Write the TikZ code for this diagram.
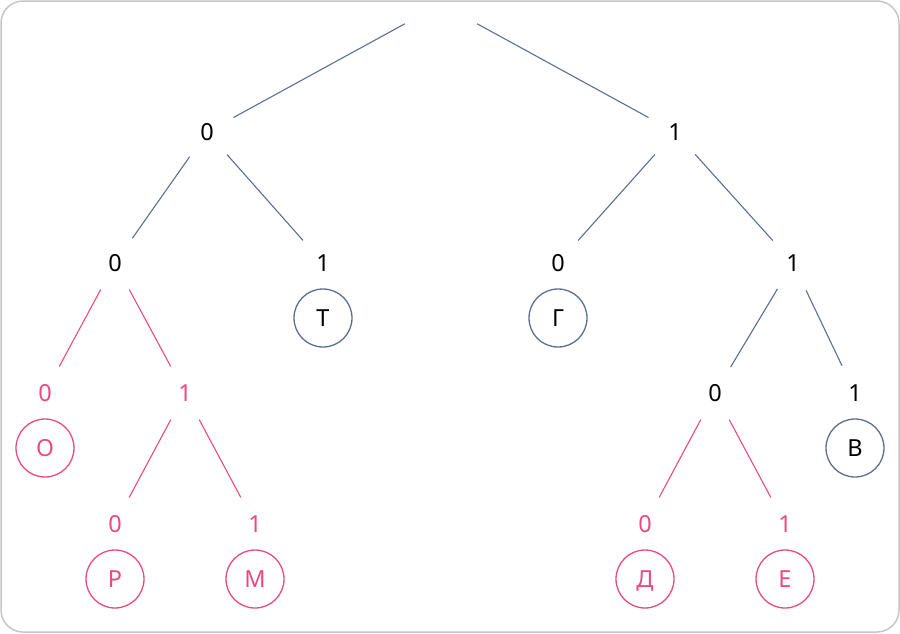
\documentclass[tikz,border=0pt]{standalone}
\usepackage{fontspec}
\setmainfont{Noto Sans}
\definecolor{edgeblue}{HTML}{5E6E92}
\definecolor{edgepink}{HTML}{E94A80}
\definecolor{framegray}{HTML}{C6C6C6}
\begin{document}
\begin{tikzpicture}[x=1pt,y=-1pt,
  lab/.style={circle,minimum size=60pt,inner sep=0pt,text height=17pt,text depth=0pt,
    font=\fontsize{23.5}{26}\selectfont},
  labb/.style={lab,text=black},
  labp/.style={lab,text=edgepink},
  leaf/.style={circle,minimum size=58pt,inner sep=0pt,line width=1.3pt,text height=17pt,text depth=0pt,
    font=\fontsize{23.5}{26}\selectfont},
  leafb/.style={leaf,draw=edgeblue,text=black},
  leafp/.style={leaf,draw=edgepink,text=edgepink},
  eb/.style={draw=edgeblue,line width=1.1pt},
  ep/.style={draw=edgepink,line width=1.1pt}]
\useasboundingbox (0,0) rectangle (900,633);
\draw[framegray,line width=1.5pt,rounded corners=22pt] (1,1) rectangle (899,632);
% tree labels
\node[circle,minimum size=82pt,inner sep=0pt] (root) at (441,4) {};
\node[labb] (a0) at (207,132) {0};
\node[labb] (a1) at (675,132) {1};
\node[labb] (b00) at (115,263) {0};
\node[labb] (b01) at (323,263) {1};
\node[labb] (b10) at (558,263) {0};
\node[labb] (b11) at (793,263) {1};
\node[labp] (c000) at (45,393) {0};
\node[labp] (c001) at (185,393) {1};
\node[labb] (c110) at (715,393) {0};
\node[labb] (c111) at (855,393) {1};
\node[labp] (d0010) at (115,524) {0};
\node[labp] (d0011) at (255,524) {1};
\node[labp] (d1100) at (645,524) {0};
\node[labp] (d1101) at (785,524) {1};
% leaves
\node[leafb] (T) at (323,318) {Т};
\node[leafb] (G) at (558,318) {Г};
\node[leafp] (O) at (45,448) {О};
\node[leafb] (V) at (855,448) {В};
\node[leafp] (R) at (115,579) {Р};
\node[leafp] (M) at (255,579) {М};
\node[leafp] (D) at (645,579) {Д};
\node[leafp] (E) at (785,579) {Е};
% edges
\draw[eb] (root) -- (a0);
\draw[eb] (root) -- (a1);
\draw[eb] (a0) -- (b00);
\draw[eb] (a0) -- (b01);
\draw[eb] (a1) -- (b10);
\draw[eb] (a1) -- (b11);
\draw[eb] (b11) -- (c110);
\draw[eb] (b11) -- (c111);
\draw[ep] (b00) -- (c000);
\draw[ep] (b00) -- (c001);
\draw[ep] (c001) -- (d0010);
\draw[ep] (c001) -- (d0011);
\draw[ep] (c110) -- (d1100);
\draw[ep] (c110) -- (d1101);
\end{tikzpicture}
\end{document}
